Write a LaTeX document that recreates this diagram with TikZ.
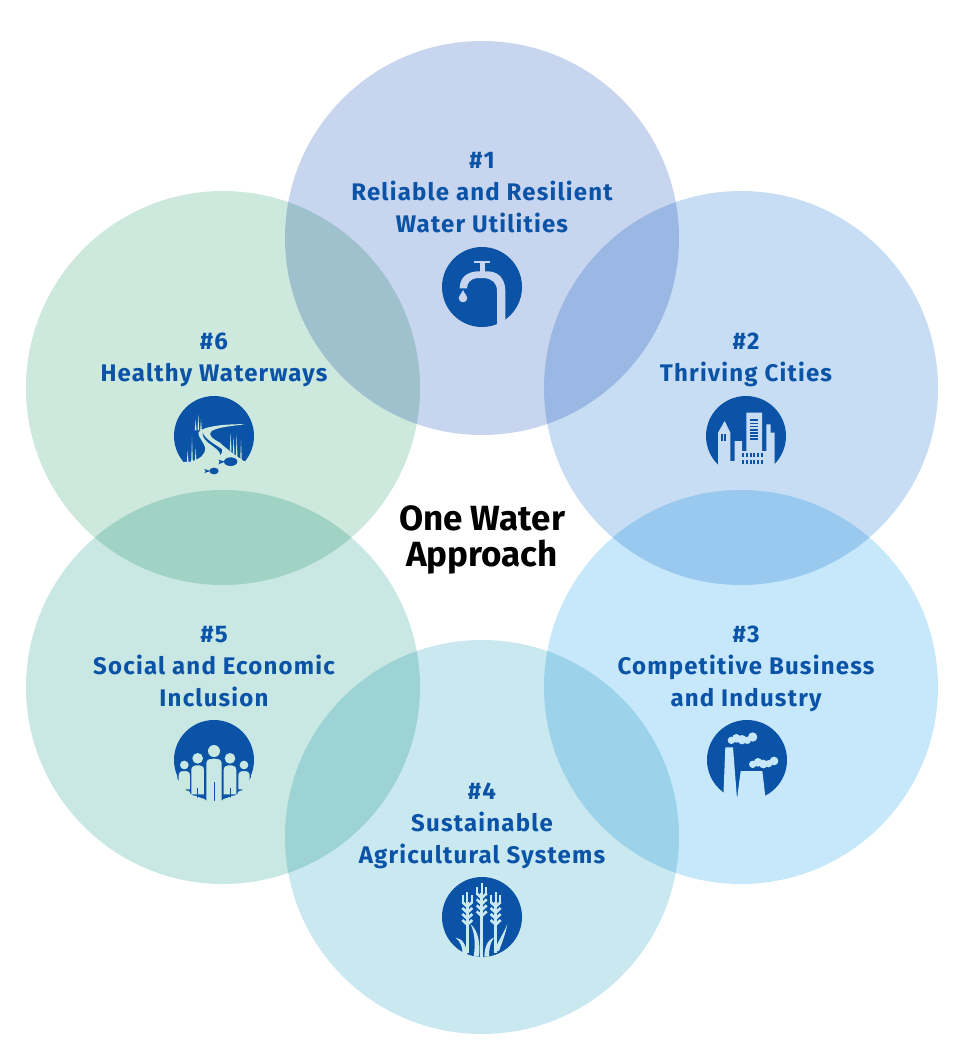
\documentclass[tikz,border=0pt]{standalone}
\usepackage{fontspec}
\setmainfont{Fira Sans}[LetterSpace=5]
\newfontfamily\titlefont{Fira Sans}
\definecolor{deepblue}{HTML}{0B53A6}
\definecolor{ringa}{HTML}{C7D5EE}
\definecolor{ringb}{HTML}{C6DDF4}
\definecolor{ringc}{HTML}{C6E8FA}
\definecolor{ringd}{HTML}{C9E8F0}
\definecolor{ringe}{HTML}{C9E8E4}
\definecolor{ringf}{HTML}{CDE8DD}
\tikzset{
  ring/.style={circle, minimum size=394pt, inner sep=0pt, draw=none},
  goal/.style={font=\bfseries\fontsize{24}{32}\selectfont, text=deepblue, align=center, inner sep=0pt},
  title/.style={font=\titlefont\bfseries\fontsize{35}{36}\selectfont, text=black, align=center, inner sep=0pt},
  disc/.style={fill=deepblue},
  tap/.pic={
    \begin{scope}[scale=1/3, shift={(-155,-143)}]
      \fill[disc] (155,143) circle (120);
      \clip (155,143) circle (123);
      \fill[ringa] (88,147) .. controls (88,115) and (110,98) .. (140,96) -- (175,96)
        .. controls (210,98) and (225,125) .. (225,155) -- (225,270) -- (200,270) -- (200,155)
        .. controls (200,130) and (185,118) .. (160,116) -- (140,116)
        .. controls (122,118) and (110,130) .. (110,147) -- cycle;
      \fill[ringa] (150,70) rectangle (163,116);
      \fill[ringa] (132,64) rectangle (180,72);
      \fill[ringa] (98,152) .. controls (92,165) and (85,170) .. (85,176)
        .. controls (85,193) and (111,193) .. (111,176) .. controls (111,170) and (104,165) .. (98,152) -- cycle;
    \end{scope}
  },
  city/.pic={
    \begin{scope}[scale=1/3, shift={(-152,-135)}]
      \fill[disc] (152,135) circle (120);
      \clip (152,135) circle (123);
      \fill[ringb] (20,222) rectangle (285,265);
      \fill[ringb] (68,223) -- (68,125) -- (88,90) -- (105,125) -- (105,210) -- (118,210)
        -- (118,150) -- (140,150) -- (140,180) -- (153,180) -- (153,65) -- (200,65) -- (200,180)
        -- (213,180) -- (213,100) -- (226,100) -- (226,125) -- (238,125) -- (238,223) -- cycle;
      \foreach \k in {78,87} \fill[disc] (\k,128) rectangle ++(5,22);
      \foreach \k in {0,...,6} \fill[disc] (165,85+\k*9.5) rectangle ++(23,5);
      \foreach \k in {0,...,5} {
        \fill[disc] (141+\k*11,185) rectangle ++(6,12);
        \fill[disc] (141+\k*11,208) rectangle ++(6,12);
      }
    \end{scope}
  },
  factory/.pic={
    \begin{scope}[scale=1/3, shift={(-157,-135)}]
      \fill[disc] (157,135) circle (120);
      \clip (157,135) circle (123);
      \fill[ringc] (92,97) -- (115,97) -- (127,252) -- (138,168) -- (203,168) -- (212,245)
        -- (212,270) -- (85,270) -- cycle;
      \foreach \a/\b/\r in {110/76/11,125/70/13,142/74/14,158/76/11,174/66/14} \fill[ringc] (\a,\b) circle (\r);
      \foreach \a/\b/\r in {174/148/11,190/142/13,206/147/13,222/146/11,238/138/13} \fill[ringc] (\a,\b) circle (\r);
    \end{scope}
  },
  wheat/.pic={
    \begin{scope}[scale=1/3, shift={(-155,-143)}]
      \fill[disc] (155,143) circle (120);
      \clip (155,143) circle (123);
      \foreach \a/\t/\e in {111/68/250,154/42/262,196/68/250} {
        \foreach \d/\g in {-13/10,0/0,13/10} \draw[ringd, line width=1.8pt] (\a+\d,\t+\g) -- (\a+\d,\t+34);
        \foreach \k in {0,...,3} \draw[ringd, line width=2.6pt] (\a-15,\t+30+\k*18) -- (\a,\t+44+\k*18) -- (\a+15,\t+30+\k*18);
        \draw[ringd, line width=2.6pt] (\a,\t+30) -- (\a,\e);
      }
      \fill[ringd] (121,165) .. controls (145,185) and (150,225) .. (146,262) -- (130,262) .. controls (135,230) and (135,195) .. (121,165) -- cycle;
      \fill[ringd] (231,165) .. controls (225,195) and (215,220) .. (206,245) -- (190,245) .. controls (205,215) and (220,190) .. (231,165) -- cycle;
      \fill[ringd] (76,205) .. controls (96,208) and (108,225) .. (112,262) -- (97,262) .. controls (97,235) and (92,218) .. (76,205) -- cycle;
      \fill[ringd] (191,205) .. controls (170,212) and (163,235) .. (162,262) -- (176,262) .. controls (176,235) and (180,220) .. (191,205) -- cycle;
    \end{scope}
  },
  crowd/.pic={
    \begin{scope}[scale=1/3, shift={(-147,-135)}]
      \fill[disc] (147,135) circle (120);
      \clip (147,135) circle (123);
      % outer figures first, the front ones lie over them
      \foreach \a/\h/\r/\w/\b in {58/150/13/19/225,237/150/13/19/225,98/130/16/21/240,195/130/16/21/240,147/108/18/25/262} {
        \fill[ringe] (\a,\h) circle (\r);
        \fill[ringe, draw=deepblue, line width=1.3pt] (\a-\w,\b) -- (\a-\w,\h+\r+18) .. controls (\a-\w,\h+\r+5) and (\a-\w/2,\h+\r+3) .. (\a,\h+\r+3)
          .. controls (\a+\w/2,\h+\r+3) and (\a+\w,\h+\r+5) .. (\a+\w,\h+\r+18) -- (\a+\w,\b) -- cycle;
      }
      \fill[disc] (145.5,200) rectangle (148.5,262);
      \fill[disc] (96.5,220) rectangle (99.5,250);
      \fill[disc] (193.5,220) rectangle (196.5,250);
    \end{scope}
  },
  river/.pic={
    \begin{scope}[scale=1/3, shift={(-147,-135)}]
      \fill[disc] (147,135) circle (120);
      \clip (147,135) circle (123);
      % the river opens into the light lower part of the disc
      \fill[ringf] (240,100) .. controls (190,98) and (110,105) .. (100,125)
        .. controls (100,140) and (115,150) .. (121,172) .. controls (121,190) and (105,205) .. (76,212)
        -- (20,215) -- (20,270) -- (275,270) -- (275,213) -- (236,210)
        .. controls (215,195) and (185,175) .. (165,155)
        .. controls (145,145) and (125,130) .. (140,120) .. controls (160,108) and (200,105) .. (240,100) -- cycle;
      \fill[disc] (113,125) .. controls (120,145) and (150,160) .. (171,175) .. controls (172,182) and (170,187) .. (166,192)
        .. controls (166,180) and (150,170) .. (130,155) .. controls (118,145) and (112,135) .. (113,125) -- cycle;
      % reeds as thin spikes
      \foreach \a/\t/\e in {81/138/214,68/178/214,92/170/214,92/85/118,100/70/118,108/85/118,197/125/180,206/138/188,215/130/200,228/148/210}
        \fill[ringf] (\a-2.5,\e) -- (\a,\t) -- (\a+2.5,\e) -- cycle;
      \fill[disc] (197,212) ellipse (20 and 13);
      \fill[disc] (180,212) -- (160,206) -- (164,212) -- (160,220) -- cycle;
      \fill[disc] (147,240) ellipse (14 and 10);
      \fill[disc] (136,240) -- (118,234) -- (122,240) -- (118,246) -- cycle;
    \end{scope}
  }
}
\begin{document}
\begin{tikzpicture}[x=1pt, y=-1pt]
    \useasboundingbox (0,0) rectangle (970,1060);
    % The six rings
    \begin{scope}[blend mode=multiply]
      \node[ring, fill=ringa] (utilities) at (482,238) {};
      \node[ring, fill=ringb] (cities) at (741,388) {};
      \node[ring, fill=ringc] (industry) at (741,687) {};
      \node[ring, fill=ringd] (farming) at (482,837) {};
      \node[ring, fill=ringe] (inclusion) at (223,687) {};
      \node[ring, fill=ringf] (waterways) at (223,388) {};
    \end{scope}
    % The labels
    \node[goal] (utilitiestext) at (482,193) {\#1\\Reliable and Resilient\\Water Utilities};
    \node[goal] (citiestext) at (746,360) {\#2\\Thriving Cities};
    \node[goal] (industrytext) at (746,669) {\#3\\Competitive Business\\and Industry};
    \node[goal] (farmingtext) at (482,826) {\#4\\Sustainable\\Agricultural Systems};
    \node[goal] (inclusiontext) at (214,667) {\#5\\Social and Economic\\Inclusion};
    \node[goal] (waterwaystext) at (214,360) {\#6\\Healthy Waterways};
    \node[title] (approach) at (482,540) {One Water\\Approach};
    % The icons
    \pic at (482,287) {tap};
    \pic at (746,436) {city};
    \pic at (747,760) {factory};
    \pic at (482,917) {wheat};
    \pic at (214,760) {crowd};
    \pic at (214,436) {river};
\end{tikzpicture}
\end{document}
